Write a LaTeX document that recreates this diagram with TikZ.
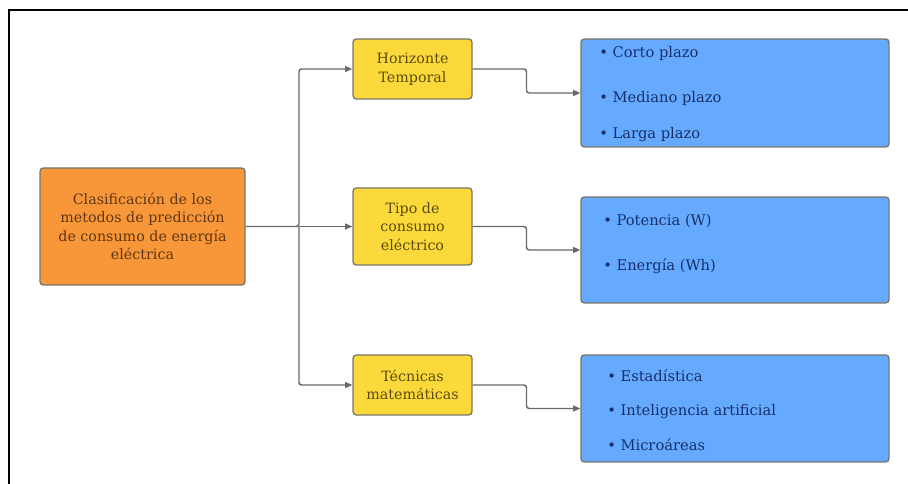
\documentclass[tikz,border=0pt]{standalone}
\usepackage{fontspec}
\setmainfont{DejaVu Serif}
\usetikzlibrary{arrows.meta,calc}

\definecolor{orangefill}{RGB}{248,150,58}
\definecolor{yellowfill}{RGB}{252,217,58}
\definecolor{bluefill}{RGB}{102,170,255}
\definecolor{boxedge}{RGB}{120,118,105}
\definecolor{orangetext}{RGB}{96,56,16}
\definecolor{yellowtext}{RGB}{92,76,14}
\definecolor{bluetext}{RGB}{22,48,105}
\definecolor{linkgray}{RGB}{105,105,105}

\tikzset{
  box/.style={draw=boxedge, line width=1pt, rounded corners=2.5pt,
    inner sep=0pt, align=center, font=\fontsize{10.7}{13.9}\selectfont},
  rootbox/.style={box, fill=orangefill, text=orangetext,
    minimum width=153.75pt, minimum height=87.75pt},
  groupbox/.style={box, fill=yellowfill, text=yellowtext,
    minimum width=89.25pt},
  listbox/.style={box, fill=bluefill, minimum width=231pt},
  item/.style={anchor=west, inner sep=0pt, text=bluetext,
    font=\fontsize{11}{13}\selectfont},
  link/.style={draw=linkgray, line width=1.1pt, rounded corners=2pt,
    -{Triangle[length=5.5pt,width=4.5pt]}},
}

\begin{document}
\begin{tikzpicture}[x=0.75pt, y=-0.75pt]
  \useasboundingbox (0,0) rectangle (908,484);

  % frame (top and left edges)
  \draw[line width=1.6pt, black] (908,10) -- (9,10) -- (9,484);

  % root
  \node[rootbox] (root) at (142.5,226.5)
    {Clasificación de los\\metodos de predicción\\de consumo de energía\\eléctrica};

  % groups
  \node[groupbox, minimum height=45pt]    (hor) at (412.5,69)    {Horizonte\\Temporal};
  \node[groupbox, minimum height=57.75pt] (tip) at (412.5,226.5) {Tipo de\\consumo\\eléctrico};
  \node[groupbox, minimum height=45pt]    (tec) at (412.5,385)   {Técnicas\\matemáticas};

  % lists
  \node[listbox, minimum height=81pt]    (lh) at (735,93)    {};
  \node[listbox, minimum height=79.5pt]  (lt) at (735,250)   {};
  \node[listbox, minimum height=80.25pt] (lm) at (735,408.5) {};

  \node[item] (h1) at (599,53)  {• Corto plazo};
  \node[item] (h2) at (599,98)  {• Mediano plazo};
  \node[item] (h3) at (599,135) {• Larga plazo};

  \node[item] (t1) at (603,221) {• Potencia (W)};
  \node[item] (t2) at (603,266) {• Energía (Wh)};

  \node[item] (m1) at (607,376) {• Estadística};
  \node[item] (m2) at (607,412) {• Inteligencia artificial};
  \node[item] (m3) at (607,445) {• Microáreas};

  % trunk from the root to the three groups
  \coordinate (trunk) at (299,226.5);
  \draw[link] (root.east) -- (trunk) |- (hor.west);
  \draw[link] (trunk) -- (tip.west);
  \draw[link] (trunk) |- (tec.west);

  % elbows from each group to its list
  \draw[link] (hor.east) -| ($(hor.east)!.5!(lh.west)$) |- (lh.west);
  \draw[link] (tip.east) -| ($(tip.east)!.5!(lt.west)$) |- (lt.west);
  \draw[link] (tec.east) -| ($(tec.east)!.5!(lm.west)$) |- (lm.west);
\end{tikzpicture}
\end{document}
